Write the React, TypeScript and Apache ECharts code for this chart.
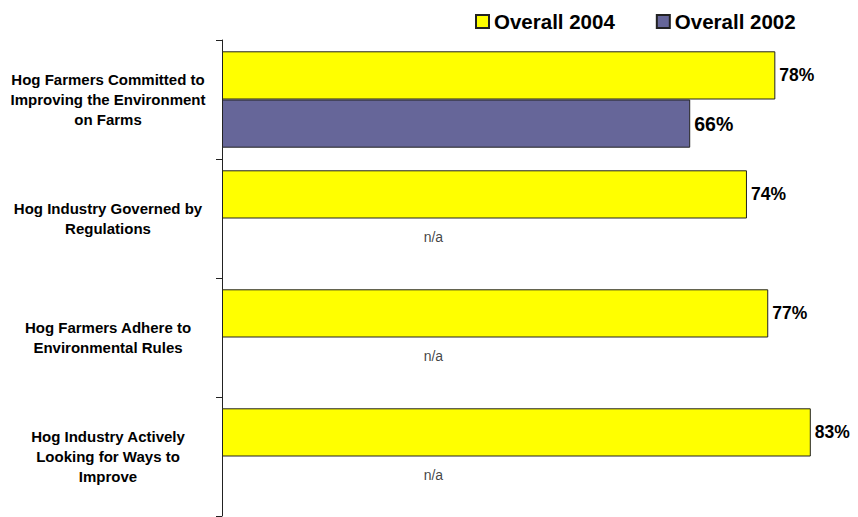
import React, { useEffect, useRef } from "react";
import * as echarts from "echarts";

const categories = [
  "Hog Farmers Committed to\nImproving the Environment\non Farms",
  "Hog Industry Governed by\nRegulations",
  "Hog Farmers Adhere to\nEnvironmental Rules",
  "Hog Industry Actively\nLooking for Ways to\nImprove",
];
const overall2004 = [78, 74, 77, 83];
const overall2002: (number | null)[] = [66, null, null, null];
const naLabelX: (number | null)[] = [null, 29.8, 29.8, 29.8];

const FONT = "'Liberation Sans', Arial, sans-serif";

export default function App() {
  const ref = useRef<HTMLDivElement>(null);
  useEffect(() => {
    if (!ref.current) return;
    const chart = echarts.init(ref.current, undefined, { renderer: "svg" });
    const naData = naLabelX
      .map((x, i) => (x == null ? null : [x, categories[i]]))
      .filter((d) => d !== null);
    chart.setOption({
      animation: false,
      textStyle: { fontFamily: FONT },
      legend: {
        data: [
          { name: "Overall 2004", icon: "rect" },
          { name: "Overall 2002", icon: "rect" },
        ],
        left: 475,
        top: 11,
        padding: 0,
        itemWidth: 13,
        itemHeight: 13,
        itemGap: 41,
        selectedMode: false,
        textStyle: { fontFamily: FONT, fontWeight: "bold", fontSize: 20.5, color: "#000" },
      },
      grid: { left: 222, top: 40, bottom: 1, right: 33 },
      xAxis: {
        type: "value",
        min: 0,
        max: 85,
        show: false,
      },
      yAxis: {
        type: "category",
        data: categories,
        inverse: true,
        axisLine: { show: true, lineStyle: { color: "#222", width: 1 } },
        axisTick: { show: true, length: 6, lineStyle: { color: "#222" } },
        axisLabel: {
          align: "center",
          margin: 114,
          fontFamily: FONT,
          fontWeight: "bold",
          fontSize: 15,
          lineHeight: 20,
          color: "#000",
        },
      },
      series: [
        {
          name: "Overall 2004",
          type: "bar",
          data: overall2004,
          barGap: "0%",
          barCategoryGap: "19%",
          itemStyle: { color: "#FFFF00", borderColor: "#222", borderWidth: 1 },
          label: {
            show: true,
            position: "right",
            distance: 4,
            formatter: "{c}%",
            fontFamily: FONT,
            fontWeight: "bold",
            fontSize: 17.5,
            color: "#000",
          },
        },
        {
          name: "Overall 2002",
          type: "bar",
          data: overall2002,
          itemStyle: { color: "#666699", borderColor: "#222", borderWidth: 1 },
          label: {
            show: true,
            position: "right",
            distance: 4,
            formatter: "{c}%",
            fontFamily: FONT,
            fontWeight: "bold",
            fontSize: 19.5,
            color: "#000",
          },
        },
        {
          name: "n/a",
          type: "scatter",
          data: naData,
          symbolSize: 0,
          silent: true,
          label: {
            show: true,
            position: "inside",
            offset: [0, 18.5],
            formatter: "n/a",
            fontFamily: FONT,
            fontSize: 14,
            color: "#111",
          },
        },
      ],
    });
    return () => chart.dispose();
  }, []);
  return (
    <div
      ref={ref}
      style={{ position: "fixed", left: 0, top: 0, width: 858, height: 517, background: "#fff" }}
    />
  );
}
